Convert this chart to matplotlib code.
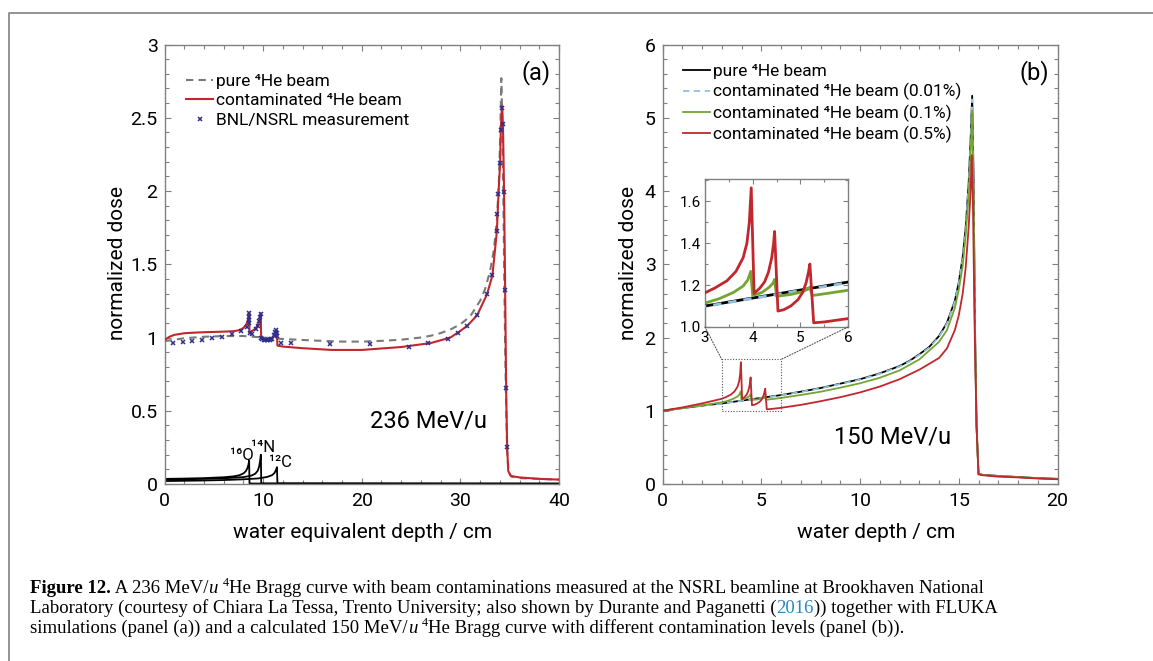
import matplotlib
matplotlib.use('Agg')
import matplotlib.pyplot as plt
from matplotlib.ticker import MultipleLocator
from matplotlib.patches import Rectangle, ConnectionPatch
from matplotlib.lines import Line2D

plt.rcParams['font.family'] = ['Roboto', 'DejaVu Sans']

# ---------------- data: panel (a) ----------------
a_pure_x = [0, 1, 2, 4, 6, 8, 10, 12, 14, 16, 18, 20, 22, 24, 26, 27, 28, 29, 30, 31, 32, 32.5, 33,
            33.4, 33.7, 33.9, 34.05, 34.15, 34.25, 34.35, 34.45, 34.55, 34.65, 34.75, 34.9, 35.2, 36, 38, 40]
a_pure_y = [0.975, 0.985, 0.995, 1.005, 1.01, 1.01, 1.0, 0.99, 0.983, 0.977, 0.972, 0.972, 0.977, 0.985,
            1.0, 1.012, 1.03, 1.055, 1.09, 1.145, 1.25, 1.33, 1.45, 1.6, 1.8, 2.05, 2.4, 2.77, 2.5, 2.0,
            1.4, 0.9, 0.5, 0.22, 0.08, 0.05, 0.04, 0.035, 0.03]

a_cont_x = [0, 0.5, 1, 2, 3, 4, 5, 6, 7, 7.6, 8.0, 8.3, 8.5, 8.58, 8.62, 8.8, 9.2, 9.5, 9.68, 9.76,
            9.8, 10.2, 10.8, 11.2, 11.38, 11.45, 12, 14, 17, 20, 24, 27, 29, 30, 30.7, 31.7, 32.7,
            33.25, 33.7, 33.86, 34.03, 34.1, 34.22, 34.32, 34.43, 34.54, 34.64, 34.74, 34.85, 35.1,
            36, 38, 40]
a_cont_y = [0.983, 1.005, 1.018, 1.029, 1.033, 1.036, 1.038, 1.04, 1.043, 1.05, 1.065, 1.09, 1.13, 1.17,
            1.03, 1.04, 1.06, 1.09, 1.13, 1.165, 0.995, 0.99, 0.99, 1.015, 1.05, 0.945, 0.938, 0.927,
            0.915, 0.915, 0.935, 0.962, 1.0, 1.045, 1.08, 1.152, 1.295, 1.424, 1.725, 1.977, 2.19,
            2.42, 2.58, 2.45, 1.99, 1.325, 0.652, 0.25, 0.09, 0.055, 0.045, 0.035, 0.03]

meas_x = [0.85, 1.85, 2.8, 3.8, 4.8, 5.8, 6.8, 7.8, 8.4, 8.55, 8.58, 8.6, 8.6, 8.7, 8.85, 9.3, 9.5,
          9.6, 9.7, 9.74, 9.8, 9.9, 10.05, 10.2, 10.35, 10.5, 10.65, 10.8, 10.95, 11.15, 11.25, 11.35,
          11.4, 11.45, 11.8, 12.8, 16.8, 20.8, 24.8, 26.7, 28.7, 29.76, 30.7, 31.7, 32.7, 33.25, 33.7,
          33.76, 33.86, 34.03, 34.1, 34.23, 34.37, 34.43, 34.54, 34.64, 34.74]
meas_y = [0.96, 0.969, 0.978, 0.985, 0.994, 1.005, 1.021, 1.046, 1.074, 1.10, 1.119, 1.142, 1.165,
          1.03, 1.025, 1.06, 1.08, 1.11, 1.14, 1.16, 1.0, 0.99, 0.985, 0.983, 0.985, 0.983, 0.985,
          0.987, 0.99, 1.02, 1.035, 1.048, 1.03, 1.01, 0.96, 0.96, 0.955, 0.955, 0.937, 0.96, 0.99,
          1.034, 1.08, 1.152, 1.295, 1.424, 1.725, 1.84, 1.977, 2.19, 2.415, 2.568, 2.454, 1.99,
          1.325, 0.652, 0.25]

o16_x = [0, 2, 4, 6, 7, 7.6, 8.0, 8.25, 8.42, 8.52, 8.58, 8.62, 9, 40]
o16_y = [0.035, 0.037, 0.04, 0.046, 0.052, 0.06, 0.072, 0.088, 0.11, 0.135, 0.16, 0.004, 0.003, 0.002]
n14_x = [0, 2, 4, 6, 8, 8.8, 9.2, 9.45, 9.6, 9.7, 9.77, 9.81, 10.2, 40]
n14_y = [0.03, 0.032, 0.035, 0.039, 0.047, 0.057, 0.07, 0.09, 0.12, 0.16, 0.2, 0.004, 0.003, 0.002]
c12_x = [0, 2, 4, 6, 8, 9.5, 10.4, 10.9, 11.15, 11.3, 11.4, 11.45, 11.8, 40]
c12_y = [0.02, 0.022, 0.024, 0.027, 0.032, 0.038, 0.048, 0.06, 0.075, 0.095, 0.115, 0.003, 0.003, 0.002]

# ---------------- data: panel (b) ----------------
b_pure_x = [0, 1, 2, 3, 4, 5, 6, 7, 8, 9, 10, 11, 12, 12.5, 13, 13.5, 14, 14.4, 14.8, 15.0, 15.2,
            15.35, 15.5, 15.6, 15.68, 15.75, 15.82, 15.9, 16.0, 16.2, 17, 18, 19, 20]
b_pure_y = [1.0, 1.035, 1.07, 1.10, 1.138, 1.176, 1.214, 1.26, 1.31, 1.37, 1.43, 1.51, 1.61, 1.68,
            1.77, 1.87, 2.02, 2.2, 2.5, 2.75, 3.1, 3.5, 4.1, 4.7, 5.3, 4.2, 2.2, 0.8, 0.14, 0.125,
            0.11, 0.095, 0.08, 0.07]
b_c001_x = [0, 1, 2, 3, 4, 5, 6, 7, 8, 9, 10, 11, 12, 12.5, 13, 13.5, 14, 14.4, 14.8, 15.0, 15.2,
            15.35, 15.5, 15.6, 15.68, 15.75, 15.82, 15.9, 16.0, 16.2, 17, 18, 19, 20]
b_c001_y = [1.0, 1.035, 1.068, 1.098, 1.136, 1.174, 1.211, 1.257, 1.306, 1.366, 1.425, 1.505, 1.603,
            1.673, 1.762, 1.86, 2.01, 2.19, 2.49, 2.73, 3.08, 3.48, 4.08, 4.68, 5.25, 4.15, 2.2, 0.8,
            0.14, 0.125, 0.11, 0.095, 0.08, 0.07]
b_c01_x = [0, 1, 2, 3, 3.3, 3.6, 3.8, 3.9, 3.96, 4.0, 4.2, 4.35, 4.43, 4.46, 4.5, 4.8, 5.05, 5.15,
           5.2, 5.25, 5.5, 6, 7, 8, 9, 10, 11, 12, 13, 14, 14.4, 14.8, 15.0, 15.2, 15.35, 15.5, 15.6,
           15.68, 15.75, 15.82, 15.9, 16.0, 16.2, 17, 18, 19, 20]
b_c01_y = [1.0, 1.035, 1.075, 1.114, 1.135, 1.165, 1.195, 1.225, 1.265, 1.15, 1.165, 1.19, 1.21,
           1.227, 1.146, 1.155, 1.168, 1.18, 1.19, 1.15, 1.158, 1.175, 1.215, 1.26, 1.315, 1.375,
           1.45, 1.55, 1.70, 1.94, 2.1, 2.4, 2.65, 2.98, 3.4, 3.95, 4.5, 5.1, 4.0, 2.1, 0.8, 0.14,
           0.125, 0.11, 0.095, 0.08, 0.07]
b_c05_x = [0, 1, 2, 3, 3.2, 3.46, 3.65, 3.8, 3.88, 3.93, 3.97, 4.03, 4.15, 4.25, 4.33, 4.4, 4.44, 4.46,
           4.53, 4.65, 4.8, 4.95, 5.05, 5.12, 5.17, 5.2, 5.28, 5.5, 6, 7, 8, 9, 10, 11, 12, 13, 14,
           14.4, 14.8, 15.0, 15.2, 15.35, 15.5, 15.6, 15.66, 15.72, 15.8, 15.9, 16.0, 16.2, 17, 18,
           19, 20]
b_c05_y = [1.0, 1.045, 1.10, 1.163, 1.185, 1.22, 1.265, 1.33, 1.40, 1.50, 1.663, 1.16, 1.185, 1.215,
           1.26, 1.33, 1.40, 1.455, 1.076, 1.082, 1.10, 1.13, 1.165, 1.21, 1.26, 1.30, 1.02, 1.024,
           1.04, 1.08, 1.13, 1.185, 1.25, 1.33, 1.43, 1.56, 1.72, 1.85, 2.1, 2.3, 2.6, 2.95, 3.5,
           4.0, 4.49, 3.8, 2.2, 0.8, 0.13, 0.12, 0.1, 0.09, 0.075, 0.065]

a_xticks = [0, 10, 20, 30, 40]
a_yticks = [0, 0.5, 1, 1.5, 2, 2.5, 3]
a_yticklabels = ['0', '0.5', '1', '1.5', '2', '2.5', '3']
b_xticks = [0, 5, 10, 15, 20]
b_yticks = [0, 1, 2, 3, 4, 5, 6]
i_xticks = [3, 4, 5, 6]
i_yticks = [1.0, 1.2, 1.4, 1.6]
i_yticklabels = ['1.0', '1.2', '1.4', '1.6']

RED = '#c1272d'
GRAY = '#7a7a7a'
NAVY = '#2c2f8f'
GREEN = '#74a533'
LBLUE = '#8fc3df'
SPINE = '#808080'

W, H = 1153, 661
fig = plt.figure(figsize=(W / 100, H / 100), dpi=100)


def fx(px):
    return px / W


def fy(py):
    return 1 - py / H


ax_a = fig.add_axes([fx(164.5), fy(484), (559 - 164.5) / W, (484 - 44.5) / H])
ax_b = fig.add_axes([fx(662.5), fy(484), (1057.5 - 662.5) / W, (484 - 44.5) / H])


def style(ax, size=14, major=4.3, minor=2.8):
    for s in ax.spines.values():
        s.set_color(SPINE)
        s.set_linewidth(1.0)
    ax.tick_params(which='both', direction='in', top=True, right=True, color=SPINE,
                   width=0.8, labelsize=size, labelcolor='black')
    ax.tick_params(which='major', length=major)
    ax.tick_params(which='minor', length=minor)
    ax.tick_params(axis='x', pad=6)
    ax.tick_params(axis='y', pad=5)


# ---------------- panel (a) ----------------
for cx, cy in [(o16_x, o16_y), (n14_x, n14_y), (c12_x, c12_y)]:
    ax_a.plot(cx, cy, color='black', lw=1.3, zorder=2)
ax_a.plot(a_pure_x, a_pure_y, color=GRAY, lw=1.5, ls=(0, (3.5, 2.5)), zorder=3, label='pure ⁴He beam')
ax_a.plot(a_cont_x, a_cont_y, color=RED, lw=1.5, zorder=4, label='contaminated ⁴He beam')
ax_a.plot(meas_x, meas_y, ls='none', marker='x', ms=3.5, mew=1.1, color=NAVY, zorder=5,
          label='BNL/NSRL measurement')
ax_a.set_xlim(0, 40)
ax_a.set_ylim(0, 3)
ax_a.set_xticks(a_xticks)
ax_a.set_yticks(a_yticks)
ax_a.set_yticklabels(a_yticklabels)
ax_a.xaxis.set_minor_locator(MultipleLocator(2))
ax_a.yaxis.set_minor_locator(MultipleLocator(0.1))
style(ax_a)
ax_a.set_xlabel('water equivalent depth / cm', fontsize=15, va='center')
ax_a.xaxis.set_label_coords(0.503, -0.111)
ax_a.set_ylabel('normalized dose', fontsize=15, va='center')
ax_a.yaxis.set_label_coords(-0.119, 0.503)
ax_a.text(0.942, 0.937, '(a)', transform=ax_a.transAxes, fontsize=17, ha='center', va='center')
ax_a.text(26.8, 0.43, '236 MeV/u', fontsize=17, ha='center', va='center')
ax_a.text(7.85, 0.165, '¹⁶O', fontsize=12, ha='center', va='baseline')
ax_a.text(9.95, 0.22, '¹⁴N', fontsize=12, ha='center', va='baseline')
ax_a.text(11.75, 0.117, '¹²C', fontsize=12, ha='center', va='baseline')
ax_a.legend(loc='upper left', bbox_to_anchor=(0.055, 0.933), frameon=False, fontsize=12.5,
            handlelength=1.55, handletextpad=0.15, labelspacing=0.24, borderpad=0,
            borderaxespad=0, markerscale=1.0)

# ---------------- panel (b) ----------------
ax_b.plot(b_pure_x, b_pure_y, color='black', lw=1.3, zorder=3, label='pure ⁴He beam')
ax_b.plot(b_c001_x, b_c001_y, color=LBLUE, lw=1.3, ls=(0, (3.5, 2.5)), zorder=4,
          label='contaminated ⁴He beam (0.01%)')
ax_b.plot(b_c01_x, b_c01_y, color=GREEN, lw=1.3, zorder=5, label='contaminated ⁴He beam (0.1%)')
ax_b.plot(b_c05_x, b_c05_y, color=RED, lw=1.3, zorder=6, label='contaminated ⁴He beam (0.5%)')
ax_b.set_xlim(0, 20)
ax_b.set_ylim(0, 6)
ax_b.set_xticks(b_xticks)
ax_b.set_yticks(b_yticks)
ax_b.xaxis.set_minor_locator(MultipleLocator(1))
ax_b.yaxis.set_minor_locator(MultipleLocator(0.2))
style(ax_b)
ax_b.set_xlabel('water depth / cm', fontsize=15, va='center')
ax_b.xaxis.set_label_coords(0.542, -0.111)
ax_b.set_ylabel('normalized dose', fontsize=15, va='center')
ax_b.yaxis.set_label_coords(-0.087, 0.503)
ax_b.text(0.9405, 0.937, '(b)', transform=ax_b.transAxes, fontsize=17, ha='center', va='center')
ax_b.text(11.67, 0.64, '150 MeV/u', fontsize=17, ha='center', va='center')
ax_b.legend(loc='upper left', bbox_to_anchor=(0.052, 0.956), frameon=False, fontsize=12.5,
            handlelength=1.55, handletextpad=0.15, labelspacing=0.24, borderpad=0,
            borderaxespad=0)
ax_b.add_patch(Rectangle((3, 1.0), 3, 0.7, fill=False, ls=(0, (1, 1.5)), lw=0.8, ec='#555555',
                         zorder=7))

# ---------------- inset ----------------
ax_i = fig.add_axes([fx(705), fy(327), (848 - 705) / W, (327 - 179) / H])
ax_i.plot(b_pure_x, b_pure_y, color='black', lw=2.0, zorder=3)
ax_i.plot(b_c001_x, b_c001_y, color=LBLUE, lw=2.0, ls=(0, (3, 2.5)), zorder=4)
ax_i.plot(b_c01_x, b_c01_y, color=GREEN, lw=2.0, zorder=5)
ax_i.plot(b_c05_x, b_c05_y, color=RED, lw=2.0, zorder=6)
ax_i.set_xlim(3, 6)
ax_i.set_ylim(1.0, 1.705)
ax_i.set_xticks(i_xticks)
ax_i.set_yticks(i_yticks)
ax_i.set_yticklabels(i_yticklabels)
ax_i.xaxis.set_minor_locator(MultipleLocator(0.5))
ax_i.yaxis.set_minor_locator(MultipleLocator(0.1))
style(ax_i, size=11, major=3.5, minor=2.2)
ax_i.tick_params(axis='x', pad=3)
ax_i.tick_params(axis='y', pad=3)

for xa, xb in [(0, 3), (1, 6)]:
    con = ConnectionPatch(xyA=(xa, 0), coordsA='axes fraction', axesA=ax_i,
                          xyB=(xb, 1.7), coordsB='data', axesB=ax_b,
                          ls=(0, (1, 1.5)), lw=0.8, color='#555555')
    fig.add_artist(con)

# ---------------- frame ----------------
fig.add_artist(Line2D([fx(8.5), fx(8.5), 1], [0, fy(12.5), fy(12.5)], transform=fig.transFigure,
                      color='#8a8a8a', lw=1.3))

# ---------------- caption ----------------
CAP_FONT = ['Liberation Serif', 'DejaVu Serif']
BLUE = '#2b86c5'
cap_lines = [
    [('Figure 12.', 'bold'), (' A 236 MeV/', 'n'), ('u', 'it'), (' ', 'n'), ('4', 'sup'),
     ('He Bragg curve with beam contaminations measured at the NSRL beamline at Brookhaven National', 'n')],
    [('Laboratory (courtesy of Chiara La Tessa, Trento University; also shown by Durante and Paganetti (', 'n'),
     ('2016', 'blue'), (')) together with FLUKA', 'n')],
    [('simulations (panel (a)) and a calculated 150 MeV/', 'n'), ('u', 'it'), (' ', 'n'), ('4', 'sup'),
     ('He Bragg curve with different contamination levels (panel (b)).', 'n')],
]
renderer = fig.canvas.get_renderer()


def run_props(kind, size):
    p = dict(family=CAP_FONT, fontsize=size, color='black')
    if kind == 'bold':
        p['fontweight'] = 'bold'
    elif kind == 'it':
        p['fontstyle'] = 'italic'
    elif kind == 'sup':
        p['fontsize'] = size * 0.65
    elif kind == 'blue':
        p['color'] = BLUE
    return p


def width(s, props):
    t1 = fig.text(0, 0, s + '|', **props)
    t2 = fig.text(0, 0, '|', **props)
    w = t1.get_window_extent(renderer).width - t2.get_window_extent(renderer).width
    t1.remove()
    t2.remove()
    return w


cap_size = 13.5
baselines = [593, 613, 633]
for line, by in zip(cap_lines, baselines):
    x = 30.0
    for s, k in line:
        props = run_props(k, cap_size)
        yy = by - (cap_size * 0.55 if k == 'sup' else 0)
        fig.text(x / W, fy(yy), s, va='baseline', ha='left', **props)
        x += width(s, props)

fig.savefig('out.png', dpi=100)
